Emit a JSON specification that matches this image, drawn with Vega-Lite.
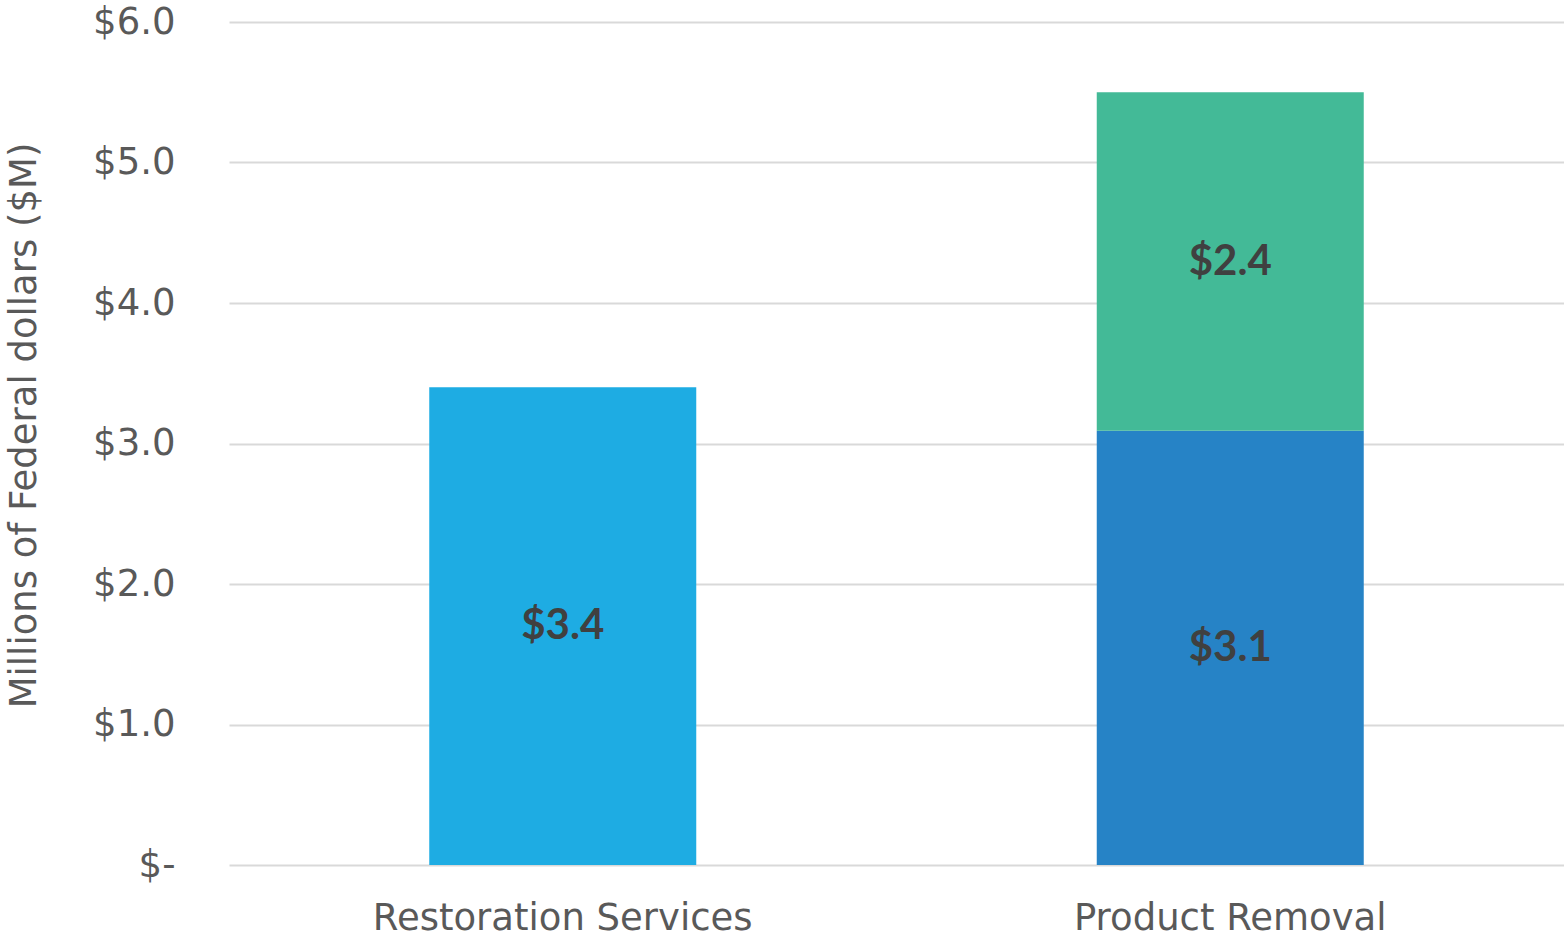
{
  "$schema": "https://vega.github.io/schema/vega-lite/v6.json",
  "autosize": {"type": "none"},
  "padding": {"left": 229, "top": 22, "right": 0, "bottom": 72},
  "width": 1335,
  "height": 843,
  "background": "white",
  "config": {
    "view": {"stroke": null},
    "font": "DejaVu Sans"
  },
  "data": {
    "values": [
      {"category": "Restoration Services", "segment": "Restoration Services", "stack": 1, "value": 3.40, "label": "$3.4"},
      {"category": "Product Removal", "segment": "Product Removal (lower)", "stack": 1, "value": 3.09, "label": "$3.1"},
      {"category": "Product Removal", "segment": "Product Removal (upper)", "stack": 2, "value": 2.41, "label": "$2.4"}
    ]
  },
  "encoding": {
    "x": {
      "field": "category",
      "type": "nominal",
      "sort": ["Restoration Services", "Product Removal"],
      "scale": {"paddingInner": 0.6, "paddingOuter": 0.3},
      "axis": {
        "title": null,
        "domain": false,
        "ticks": false,
        "labelAngle": 0,
        "labelFontSize": 37,
        "labelColor": "#595959",
        "labelPadding": 35,
        "labelLimit": 0,
        "labelFont": "DejaVu Sans"
      }
    },
    "y": {
      "field": "value",
      "type": "quantitative",
      "stack": "zero",
      "scale": {"domain": [0, 6], "nice": false},
      "axis": {
        "title": "Millions of Federal dollars ($M)",
        "values": [0, 1, 2, 3, 4, 5, 6],
        "labelExpr": "datum.value == 0 ? '$-' : '$' + format(datum.value, '.1f')",
        "domain": false,
        "ticks": false,
        "grid": true,
        "gridColor": "#d9d9d9",
        "gridWidth": 2,
        "labelFontSize": 37,
        "labelColor": "#595959",
        "labelPadding": 54,
        "labelFont": "DejaVu Sans",
        "titleFontSize": 37,
        "titleFontWeight": "normal",
        "titleColor": "#595959",
        "titleFont": "DejaVu Sans",
        "titleAngle": -90,
        "titleAlign": "center",
        "titleBaseline": "middle",
        "titleX": -205,
        "titleY": 403
      }
    },
    "order": {"field": "stack", "type": "quantitative"}
  },
  "layer": [
    {
      "mark": {"type": "bar"},
      "encoding": {
        "color": {
          "field": "segment",
          "type": "nominal",
          "scale": {
            "domain": ["Restoration Services", "Product Removal (lower)", "Product Removal (upper)"],
            "range": ["#1EACE3", "#2683C6", "#43BA97"]
          },
          "legend": null
        }
      }
    },
    {
      "mark": {"type": "text", "fontSize": 42, "fontWeight": "bold", "color": "#404040", "font": "Lato", "baseline": "middle", "align": "center"},
      "encoding": {
        "y": {"field": "value", "type": "quantitative", "stack": "zero", "bandPosition": 0.5},
        "text": {"field": "label"}
      }
    }
  ]
}
